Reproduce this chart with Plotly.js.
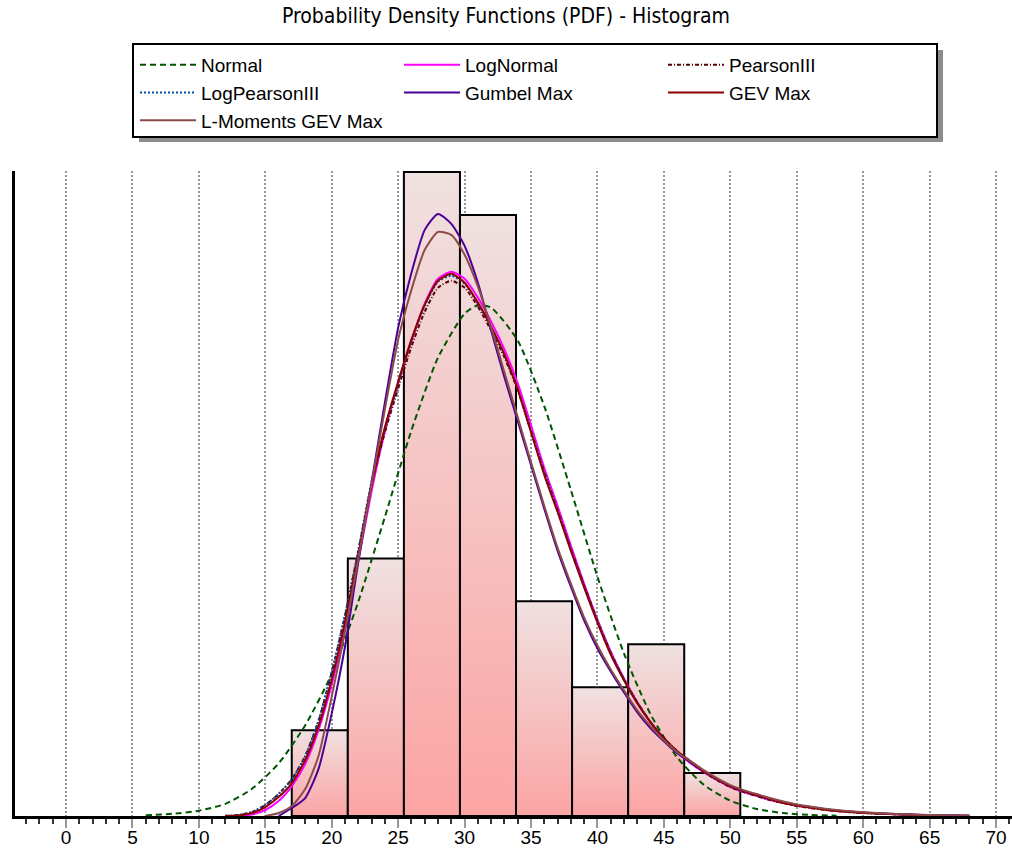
<!DOCTYPE html>
<html><head><meta charset="utf-8">
<script src="https://cdn.plot.ly/plotly-3.0.1.min.js"></script>
<style>html,body{margin:0;padding:0;background:#fff}#chart{width:1012px;height:860px}</style>
</head><body><div id="chart"></div>
<script>
// Histogram
const binEdges = [16.99, 21.21, 25.43, 29.65, 33.87, 38.09, 42.31, 46.53, 50.75];
const binCounts = [2, 6, 15, 14, 5, 3, 4, 1];

// PDF values (x 1e-3)
const normalX = [6,8,10,12,14,16,18,20,22,24,26,28,30,31,32,34,36,38,40,42,44,46,48,50,52,54,56,58];
const normalPdf = [0.09,0.24,0.59,1.34,3.0,5.8,10.0,15.68,23.66,33.01,42.58,50.61,55.46,56.39,56.12,52.48,45.22,35.98,26.41,17.93,11.22,6.46,3.44,1.69,0.77,0.32,0.12,0.04];

const fitX = [12,13,14,15,16,17,18,19,20,21,22,23,24,25,26,27,28,29,30,31,32,33,34,35,36,37,38,39,40,41,42,43,44,45,46,47,48,49,50,51,52,53,54,55,56,57,58,59,60,62,64,66,68];
const logNormalPdf = [0,0.03,0.17,0.66,1.65,3.30,5.72,9.46,14.52,20.91,28.17,35.87,42.47,47.75,52.48,56.56,59.31,60.08,59.31,57.22,54.57,51.49,47.75,43.13,38.40,34.22,29.82,25.64,21.68,18.15,15.18,12.54,10.34,8.47,7.04,5.83,4.84,3.96,3.19,2.64,2.20,1.76,1.43,1.16,0.94,0.75,0.59,0.47,0.37,0.23,0.13,0.07,0.03];
const pearson3Pdf = [0.02,0.11,0.44,1.21,2.42,4.07,6.60,10.45,15.84,22.12,29.27,36.64,42.36,47.20,51.82,55.68,58.32,59.09,58.32,56.23,53.59,50.61,46.98,42.47,37.96,33.78,29.49,25.42,21.57,18.04,15.07,12.54,10.34,8.58,7.15,5.94,4.84,3.96,3.19,2.64,2.20,1.76,1.43,1.10,0.88,0.69,0.54,0.42,0.33,0.20,0.11,0.06,0.02];
const logPearson3Pdf = [0.02,0.11,0.44,1.21,2.42,4.07,6.60,10.56,15.95,22.23,29.38,36.97,42.80,47.75,52.48,56.34,58.98,59.64,58.76,56.56,53.91,50.83,47.09,42.47,37.85,33.67,29.38,25.31,21.46,17.93,15.07,12.54,10.34,8.58,7.15,6.05,4.95,4.07,3.30,2.75,2.31,1.87,1.49,1.21,0.99,0.77,0.61,0.47,0.37,0.23,0.13,0.07,0.02];
const gumbelPdf = [null,null,null,null,0,0.88,1.98,5.17,11.33,18.71,28.06,36.86,45.66,53.91,59.97,64.70,66.46,65.36,62.94,58.87,53.59,48.41,43.57,38.73,33.89,29.27,25.31,21.57,18.49,15.95,13.64,11.44,9.68,8.25,6.93,5.94,4.95,4.07,3.30,2.75,2.31,1.87,1.54,1.21,0.99,0.77,0.61,0.50,0.39,0.24,0.13,0.06,0.02];
const gevPdf = [0,0.06,0.33,0.99,2.09,3.63,6.16,9.90,15.07,21.46,28.83,36.53,42.91,47.97,52.59,56.45,59.09,59.86,58.87,56.67,54.02,50.94,47.09,42.36,37.63,33.56,29.27,25.20,21.35,17.82,14.96,12.43,10.34,8.58,7.15,6.05,4.95,4.07,3.30,2.75,2.31,1.87,1.43,1.16,0.94,0.72,0.55,0.44,0.33,0.22,0.11,0.04,0.01];
const lmomGevPdf = [null,null,null,0,0.33,1.10,2.97,6.60,13.20,20.36,28.39,36.64,44.89,52.59,58.10,62.50,64.48,64.15,61.95,58.43,53.91,48.96,44.01,39.06,34.22,29.60,25.64,21.90,18.82,16.17,13.86,11.66,9.90,8.36,7.04,6.05,5.06,4.18,3.41,2.86,2.42,1.98,1.60,1.27,1.05,0.83,0.66,0.53,0.42,0.26,0.15,0.08,0.03];

const xTicks = [0,5,10,15,20,25,30,35,40,45,50,55,60,65,70];

const L = 15, R = 0, T = 171, B = 44, W = 1012, H = 860;
const pw = W - L - R, ph = H - T - B;
const px = v => (v - L) / pw;
const py = v => (H - B - v) / ph;

const traces = [];
const total = binCounts.reduce((a, b) => a + b, 0);
for (let i = 0; i < binCounts.length; i++) {
  const x0 = binEdges[i], x1 = binEdges[i + 1];
  const d = binCounts[i] / (total * (x1 - x0)) * 1000;
  traces.push({
    type: 'scatter', mode: 'lines', x: [x0, x0, x1, x1, x0], y: [0, d, d, 0, 0],
    fill: 'toself', fillcolor: 'rgb(246,196,196)',
    fillgradient: {type: 'vertical', colorscale: [[0, 'rgb(252,164,164)'], [1, 'rgb(240,225,225)']]},
    line: {color: '#000', width: 2}, showlegend: false, hoverinfo: 'skip'
  });
}
function curve(name, x, y, color, dash) {
  return {type: 'scatter', mode: 'lines', name, x, y,
    line: {color, width: 2, dash: dash || 'solid', shape: 'spline', smoothing: 0.6}};
}
traces.push(curve('Normal', normalX, normalPdf, 'rgb(0,85,0)', '6px,4px'));
traces.push(curve('LogNormal', fitX, logNormalPdf, '#ff00ff'));
traces.push(curve('PearsonIII', fitX, pearson3Pdf, 'rgb(90,0,0)', '4px,2px,1px,2px'));
traces.push(curve('LogPearsonIII', fitX, logPearson3Pdf, 'rgb(0,80,160)', '2px,2px'));
traces.push(curve('Gumbel Max', fitX, gumbelPdf, 'rgb(75,0,150)'));
traces.push(curve('GEV Max', fitX, gevPdf, 'rgb(140,0,0)'));
traces.push(curve('L-Moments GEV Max', fitX, lmomGevPdf, 'rgb(140,75,75)'));

const layout = {
  width: W, height: H,
  margin: {l: L, r: R, t: T, b: B, pad: 0},
  paper_bgcolor: '#fff', plot_bgcolor: '#fff',
  title: {text: 'Probability Density Functions (PDF) - Histogram', xref: 'container', x: 0.5, xanchor: 'center',
    yref: 'container', y: 1 - 16 / H, yanchor: 'middle',
    font: {family: 'DejaVu Sans Condensed, DejaVu Sans', size: 21, color: '#000'}},
  showlegend: true,
  legend: {orientation: 'h', x: px(135), y: py(46), xanchor: 'left', yanchor: 'top',
    bgcolor: 'rgba(0,0,0,0)', borderwidth: 0,
    font: {family: 'Liberation Sans, Arial', size: 19, color: '#000'},
    itemwidth: 56, entrywidth: 193, entrywidthmode: 'pixels', traceorder: 'normal'},
  xaxis: {range: [-3.84, 71.2], showgrid: true, gridcolor: '#999', gridwidth: 2, griddash: '2px,2px',
    zeroline: false, showline: true, linecolor: '#000', linewidth: 3,
    tickmode: 'array', tickvals: xTicks, ticktext: xTicks.map(String),
    ticks: 'outside', ticklen: 9, tickwidth: 2, tickcolor: '#999', ticklabelstandoff: -7,
    minor: {dtick: 1, tick0: 0, ticks: 'outside', ticklen: 5, tickwidth: 2, tickcolor: '#333', showgrid: false},
    tickfont: {family: 'Liberation Sans, Arial', size: 19, color: '#000'}, fixedrange: true},
  yaxis: {range: [0, 71.2], showgrid: false, zeroline: false, showline: true, linecolor: '#000', linewidth: 3,
    showticklabels: false, ticks: '', fixedrange: true},
  shapes: [
    {type: 'rect', xref: 'paper', yref: 'paper', x0: px(139), x1: px(943), y0: py(142), y1: py(50),
      fillcolor: '#8c8c8c', line: {width: 0}, layer: 'above'},
    {type: 'rect', xref: 'paper', yref: 'paper', x0: px(133), x1: px(937), y0: py(137), y1: py(44),
      fillcolor: '#fff', line: {color: '#000', width: 2}, layer: 'above'}
  ],
  hovermode: false
};
Plotly.newPlot('chart', traces, layout, {staticPlot: true, displayModeBar: false});
</script></body></html>
